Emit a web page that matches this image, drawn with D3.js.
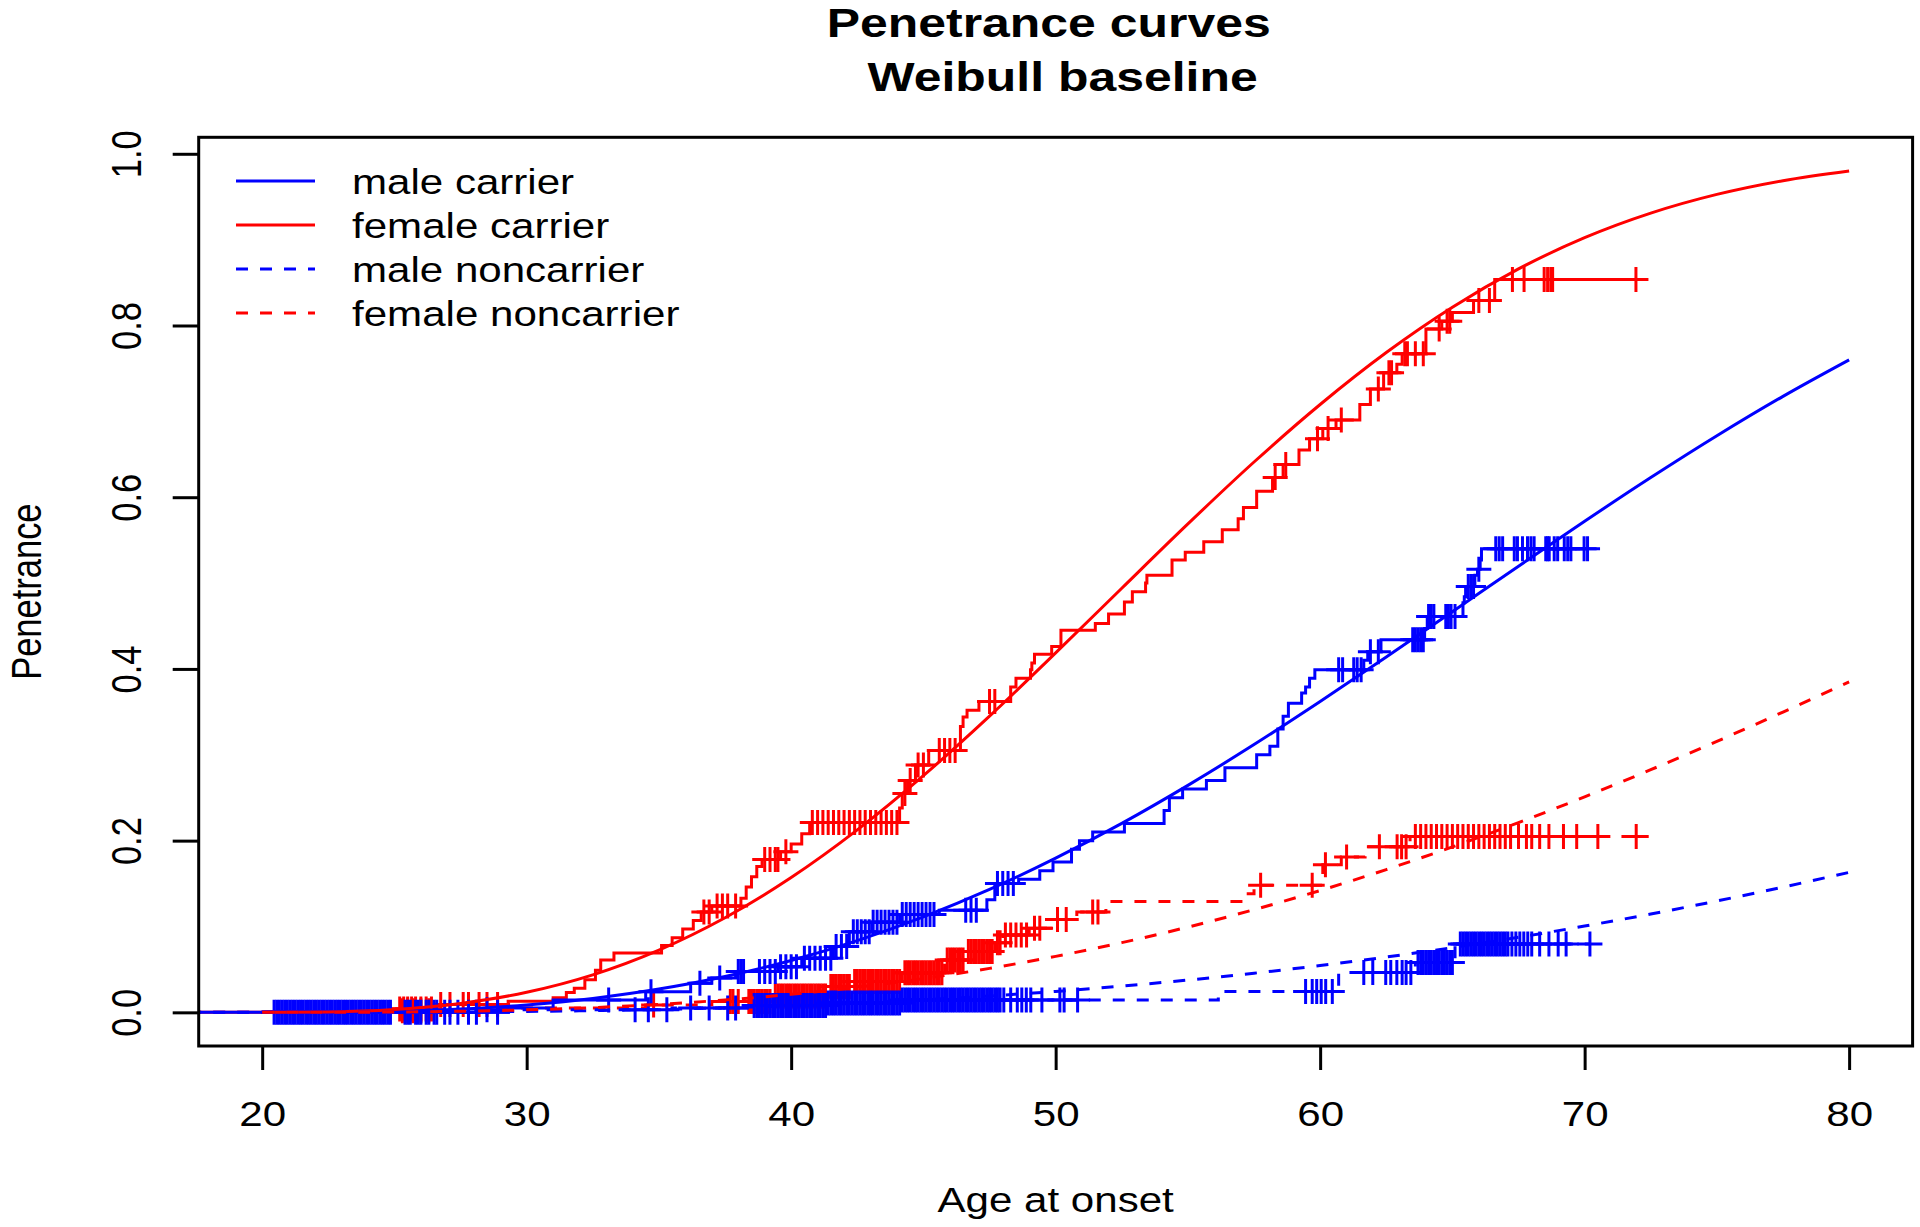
<!DOCTYPE html>
<html><head><meta charset="utf-8">
<script src="https://cdn.jsdelivr.net/npm/d3@7"></script>
<style>
html,body{margin:0;padding:0;background:#fff;}
text{font-family:"Liberation Sans", Arial, Helvetica, sans-serif;}
</style>
</head><body>
<svg id="chart" width="1920" height="1227"></svg>
<script>
// ---------------- DATA ----------------
const xTicks = [20, 30, 40, 50, 60, 70, 80];
const yTicks = [0, 0.2, 0.4, 0.6, 0.8, 1.0];
const legendLabels = ["male carrier", "female carrier", "male noncarrier", "female noncarrier"];

// fitted (Weibull) penetrance curves
const curveAges = [20, 22.5, 25, 27.5, 30, 32.5, 35, 37.5, 40, 42.5, 45, 47.5, 50, 52.5, 55, 57.5, 60, 62.5, 65, 67.5, 70, 72.5, 75, 77.5, 80];
const maleCarrierCurve = [0, 0.0002, 0.0012, 0.0038, 0.0086, 0.0162, 0.0271, 0.0417, 0.0604, 0.0835, 0.1111, 0.1431, 0.1796, 0.2201, 0.2644, 0.3119, 0.3620, 0.4138, 0.4666, 0.5197, 0.5720, 0.6229, 0.6716, 0.7175, 0.7600];
const femaleCarrierCurve = [0, 0.0005, 0.0033, 0.0104, 0.0234, 0.0437, 0.0725, 0.1102, 0.1570, 0.2125, 0.2757, 0.3450, 0.4186, 0.4940, 0.5689, 0.6410, 0.7080, 0.7685, 0.8213, 0.8659, 0.9023, 0.9309, 0.9527, 0.9687, 0.9800];
const maleNoncarrierCurve = [0, 0.0000, 0.0001, 0.0005, 0.0011, 0.0020, 0.0034, 0.0053, 0.0077, 0.0108, 0.0146, 0.0191, 0.0244, 0.0305, 0.0376, 0.0456, 0.0545, 0.0644, 0.0754, 0.0874, 0.1005, 0.1145, 0.1297, 0.1459, 0.1630];
const femaleNoncarrierCurve = [0, 0.0001, 0.0004, 0.0013, 0.0029, 0.0055, 0.0093, 0.0144, 0.0210, 0.0293, 0.0393, 0.0512, 0.0652, 0.0812, 0.0993, 0.1196, 0.1419, 0.1663, 0.1927, 0.2210, 0.2510, 0.2826, 0.3156, 0.3498, 0.3849];

// Kaplan-Meier (1 - S) step curves: event ages and cumulative values, plus censoring ages
const fcTimes = [24.9, 26.6, 29.3, 31.0, 31.5, 31.8, 32.2, 32.6, 32.8, 33.3, 35.1, 35.5, 35.9, 36.3, 36.6, 37.0, 38.1, 38.3, 38.5, 38.7, 38.9, 39.6, 40.0, 40.4, 40.7, 44.1, 44.2, 44.4, 44.7, 45.2, 46.4, 46.5, 46.65, 47.1, 48.3, 48.5, 49.05, 49.1, 49.2, 49.85, 50.2, 51.5, 52.0, 52.6, 52.9, 53.4, 53.45, 54.4, 54.9, 55.6, 56.3, 56.9, 57.1, 57.6, 58.2, 58.6, 59.2, 59.6, 60.1, 60.6, 61.5, 61.9, 62.4, 62.9, 63.1, 64.0, 64.6, 65.0, 65.8, 66.6];
const fcValues = [0.004, 0.009, 0.013, 0.017, 0.023, 0.028, 0.038, 0.049, 0.061, 0.069, 0.078, 0.087, 0.097, 0.107, 0.117, 0.124, 0.133, 0.146, 0.158, 0.170, 0.178, 0.187, 0.196, 0.208, 0.221, 0.238, 0.255, 0.270, 0.288, 0.305, 0.333, 0.344, 0.352, 0.362, 0.379, 0.389, 0.399, 0.407, 0.417, 0.426, 0.445, 0.453, 0.464, 0.478, 0.490, 0.500, 0.509, 0.527, 0.536, 0.548, 0.562, 0.575, 0.588, 0.607, 0.623, 0.638, 0.655, 0.668, 0.680, 0.690, 0.708, 0.726, 0.745, 0.755, 0.767, 0.796, 0.805, 0.815, 0.829, 0.8535];
const fcCensored = [25.2, 25.35, 25.5, 25.65, 25.8, 26.0, 26.2, 26.4, 26.75, 27.1, 27.6, 27.8, 28.2, 28.5, 28.9,
  36.7, 36.9, 37.2, 37.4, 37.6, 37.9, 39.0, 39.2, 39.4, 39.5, 39.8,
  40.8, 41.0, 41.2, 41.4, 41.6, 41.8, 42.0, 42.2, 42.4, 42.6, 42.8, 43.0, 43.2, 43.4, 43.6, 43.8, 44.0,
  44.3, 44.5, 44.8, 45.0, 45.6, 45.8, 46.0, 46.2, 47.5, 47.7,
  58.3, 58.7, 59.9, 60.3, 60.8, 62.2, 62.6, 62.7, 63.2, 63.3, 63.6, 63.9, 64.5, 64.8, 64.9, 66.0, 66.4,
  67.27, 67.71, 68.47, 68.6, 68.72, 68.79, 71.94];

const mcTimes = [29.3, 31.0, 34.5, 36.2, 37.0, 37.9, 39.5, 40.4, 41.6, 42.2, 43.05, 44.1, 45.6, 47.4, 47.7, 48.6, 49.4, 49.9, 50.6, 50.9, 51.4, 52.6, 54.1, 54.3, 54.8, 55.7, 56.4, 57.6, 58.1, 58.4, 58.6, 58.8, 59.3, 59.45, 59.6, 59.8, 61.65, 61.8, 62.3, 63.95, 64.05, 65.4, 65.45, 65.5, 65.85, 65.95, 66.05, 66.1];
const mcValues = [0.005, 0.0145, 0.024, 0.034, 0.04, 0.0475, 0.053, 0.063, 0.0766, 0.094, 0.105, 0.114, 0.119, 0.131, 0.15, 0.155, 0.165, 0.175, 0.19, 0.2, 0.21, 0.22, 0.235, 0.25, 0.26, 0.27, 0.285, 0.3, 0.31, 0.33, 0.345, 0.36, 0.372, 0.379, 0.389, 0.399, 0.41, 0.42, 0.434, 0.447, 0.461, 0.477, 0.484, 0.496, 0.509, 0.516, 0.527, 0.54];
const mcCensored = [25.4, 25.6, 25.8, 26.0, 26.3, 26.6, 26.9, 27.4, 28.1, 28.9,
  33.1, 34.7, 36.55, 37.3, 38.0, 38.1, 38.2, 38.8, 39.0, 39.2, 39.4, 39.6, 39.8, 40.0, 40.2, 40.5, 40.7, 40.9, 41.1, 41.3, 41.5, 41.7, 41.9, 42.1,
  42.35, 42.5, 42.65, 42.8, 42.95, 43.1, 43.25, 43.4, 43.55, 43.7, 43.85, 44.0, 44.2, 44.35, 44.5, 44.65, 44.8, 44.95, 45.1, 45.25, 45.4,
  46.6, 46.8, 47.0, 47.8, 48.0, 48.2, 48.4,
  60.7, 60.85, 61.27, 61.4, 61.55, 61.9, 62.2, 63.5, 63.6, 63.7, 63.8, 63.9, 64.1, 64.2, 64.3, 64.75, 64.85, 64.95, 65.1, 65.6, 65.7, 65.8, 66.0,
  66.64, 66.77, 66.90, 67.34, 67.46, 67.65, 67.84, 67.97, 68.09, 68.53, 68.60, 68.66, 68.85, 68.98, 69.23, 69.36, 69.48, 69.98, 70.11];

const mnTimes = [28.0, 35.5, 38.5, 41.4, 44.2, 56.15, 60.7, 63.6, 65.1];
const mnValues = [0.003, 0.005, 0.008, 0.011, 0.0145, 0.0242, 0.0463, 0.058, 0.0797];
const mnCensored = [20.45, 20.55, 20.65, 20.75, 20.85, 20.95, 21.05, 21.15, 21.25, 21.35, 21.45, 21.55, 21.65, 21.75, 21.85, 21.95, 22.05, 22.15, 22.25, 22.35, 22.45,
  22.55, 22.65, 22.75, 22.85, 22.95, 23.05, 23.15, 23.25, 23.35, 23.45, 23.55, 23.65, 23.75, 23.85, 23.95, 24.05, 24.15, 24.25, 24.35, 24.45, 24.55,
  24.65, 24.75, 24.85,
  25.5, 25.9, 26.2, 26.5, 27.1, 27.8, 28.5, 34.1, 34.6, 35.3, 36.2, 36.9, 37.6, 37.9,
  38.6, 38.7, 38.8, 38.9, 39.0, 39.1, 39.2, 39.3, 39.4, 39.5, 39.6, 39.7, 39.8, 39.9, 40.0, 40.1, 40.2, 40.3, 40.4, 40.5, 40.6, 40.7, 40.8, 40.9,
  41.0, 41.1, 41.2, 41.3, 41.4, 41.5, 41.6, 41.7, 41.8, 41.9, 42.0, 42.1, 42.2, 42.3, 42.4, 42.5, 42.6, 42.7, 42.8, 42.9, 43.0, 43.1, 43.2, 43.3,
  43.4, 43.5, 43.6, 43.7, 43.8, 43.9, 44.0, 44.1, 44.2, 44.3, 44.4, 44.5, 44.6, 44.7, 44.8, 44.9, 45.0, 45.1, 45.2, 45.3, 45.4, 45.5, 45.6, 45.7,
  45.8, 45.9, 46.0, 46.1, 46.2, 46.3, 46.4, 46.5, 46.6, 46.7, 46.8, 46.9, 47.0, 47.1, 47.2, 47.3, 47.4, 47.5, 47.6, 47.7, 47.8, 47.9,
  48.04, 48.30, 48.55, 48.72, 48.89, 49.06, 49.48, 50.16, 50.32, 50.83,
  59.45, 59.70, 59.87, 60.04, 60.21, 60.46, 61.65, 61.99, 62.48, 62.67, 62.9, 63.1, 63.25, 63.43,
  63.7, 63.8, 63.9, 64.0, 64.1, 64.2, 64.3, 64.4, 64.5, 64.6, 64.7, 64.8, 64.9, 65.0,
  65.3, 65.4, 65.5, 65.6, 65.7, 65.8, 65.9, 66.0, 66.1, 66.2, 66.3, 66.4, 66.5, 66.6, 66.7, 66.8, 66.9, 67.0, 67.1, 67.25, 67.4, 67.55, 67.7,
  67.85, 68.0, 68.3, 68.65, 69.0, 69.3, 70.2];

const fnTimes = [25.0, 29.0, 34.5, 37.0, 39.3, 41.4, 42.3, 44.2, 45.8, 46.6, 47.7, 48.0, 49.0, 50.0, 50.8, 51.9, 57.2, 57.5, 60.1, 60.8, 61.7, 63.4];
const fnValues = [0.002, 0.005, 0.0087, 0.0126, 0.019, 0.030, 0.036, 0.046, 0.061, 0.071, 0.081, 0.09, 0.098, 0.108, 0.117, 0.129, 0.138, 0.148, 0.172, 0.181, 0.193, 0.2047];
const fnCensored = [25.3, 25.5, 25.7, 26.0, 26.3, 34.8, 37.7, 37.8, 38.0,
  38.4, 38.5, 38.6, 38.7, 38.8, 38.9, 39.0, 39.1, 39.2,
  39.4, 39.5, 39.6, 39.7, 39.8, 39.9, 40.0, 40.1, 40.2, 40.3, 40.4, 40.5, 40.6, 40.7, 40.8, 40.9, 41.0, 41.1, 41.2, 41.3,
  41.5, 41.6, 41.7, 41.8, 41.9, 42.0, 42.1, 42.2,
  42.4, 42.5, 42.6, 42.7, 42.8, 42.9, 43.0, 43.1, 43.2, 43.3, 43.4, 43.5, 43.6, 43.7, 43.8, 43.9, 44.0, 44.1,
  44.3, 44.4, 44.5, 44.6, 44.7, 44.8, 44.9, 45.0, 45.1, 45.2, 45.3, 45.4, 45.5, 45.6, 45.7,
  45.9, 46.0, 46.1, 46.2, 46.3, 46.4, 46.5, 46.7, 46.8, 46.9, 47.0, 47.1, 47.2, 47.3, 47.4, 47.5, 47.6,
  47.8, 47.9, 48.1, 48.3, 48.5, 48.7, 48.9, 49.2, 49.4, 50.07, 50.4, 51.4, 51.6, 57.75, 59.7, 60.2, 61.0, 62.24, 62.91, 63.08, 63.25,
  63.6, 63.8, 64.0, 64.2, 64.4, 64.6, 64.8, 65.0, 65.2, 65.4, 65.6, 65.8, 66.0, 66.2, 66.4, 66.6, 66.8, 67.0, 67.2,
  67.5, 67.8, 68.0, 68.3, 68.65, 69.2, 69.7, 70.5, 71.95];

// ---------------- LAYOUT ----------------
const W = 1920, H = 1227;
const P = {left: 198.7, right: 1912.6, top: 137.3, bottom: 1046};
const BLUE = "#0000ff", RED = "#ff0000";
const FS = 34.5, SX = 1.22, TFS = 41, TSX = 1.218, LW = 3, DASH = "12,12";

const x = d3.scaleLinear().domain([17.6, 82.4]).range([P.left, P.right]);
const y = d3.scaleLinear().domain([-0.0392, 1.0192]).range([P.bottom, P.top]);

const svg = d3.select("#chart");
svg.append("rect").attr("width", W).attr("height", H).attr("fill", "#fff");
svg.append("defs").append("clipPath").attr("id", "plotclip").append("rect")
  .attr("x", P.left).attr("y", P.top).attr("width", P.right - P.left).attr("height", P.bottom - P.top);
const g = svg.append("g").attr("clip-path", "url(#plotclip)");

function kmValue(times, vals, t) {
  let v = 0;
  for (let i = 0; i < times.length; i++) if (times[i] <= t + 1e-9) v = vals[i];
  return v;
}
const stepLine = d3.line().x(d => x(d[0])).y(d => y(d[1])).curve(d3.curveStepAfter);
const smoothLine = d3.line().x(d => x(d[0])).y(d => y(d[1])).curve(d3.curveMonotoneX);

function drawKM(times, vals, cens, color, dashed) {
  const last = d3.max(cens.concat(times));
  const pts = [[0, 0]].concat(times.map((t, i) => [t, vals[i]])).concat([[last, vals[vals.length - 1]]]);
  g.append("path").attr("d", stepLine(pts)).attr("fill", "none")
    .attr("stroke", color).attr("stroke-width", LW)
    .attr("stroke-dasharray", dashed ? DASH : null);
  g.append("g").selectAll("path").data(cens).join("path")
    .attr("transform", t => `translate(${x(t)},${y(kmValue(times, vals, t))})`)
    .attr("d", "M-12.5,0H12.5M0,-12.5V12.5")
    .attr("fill", "none").attr("stroke", color).attr("stroke-width", LW);
}
drawKM(fcTimes, fcValues, fcCensored, RED, false);
drawKM(fnTimes, fnValues, fnCensored, RED, true);
drawKM(mcTimes, mcValues, mcCensored, BLUE, false);
drawKM(mnTimes, mnValues, mnCensored, BLUE, true);

function drawCurve(vals, color, dashed) {
  g.append("path").attr("d", smoothLine(curveAges.map((a, i) => [a, vals[i]])))
    .attr("fill", "none").attr("stroke", color).attr("stroke-width", LW)
    .attr("stroke-dasharray", dashed ? DASH : null);
}
drawCurve(maleCarrierCurve, BLUE, false);
drawCurve(femaleCarrierCurve, RED, false);
drawCurve(maleNoncarrierCurve, BLUE, true);
drawCurve(femaleNoncarrierCurve, RED, true);

// frame
svg.append("rect").attr("x", P.left).attr("y", P.top)
  .attr("width", P.right - P.left).attr("height", P.bottom - P.top)
  .attr("fill", "none").attr("stroke", "#000").attr("stroke-width", LW);

// axes
const xAxis = svg.append("g").attr("transform", `translate(0,${P.bottom})`)
  .call(d3.axisBottom(x).tickValues(xTicks).tickSize(24).tickFormat(d3.format("d")));
xAxis.select(".domain").remove();
xAxis.selectAll(".tick line").attr("stroke", "#000").attr("stroke-width", LW);
xAxis.selectAll(".tick text").attr("y", 0).attr("dy", null)
  .attr("transform", `translate(0,80) scale(${SX},1)`)
  .attr("font-size", FS).attr("fill", "#000").attr("font-family", "Liberation Sans, Arial, sans-serif");

const yAxis = svg.append("g").attr("transform", `translate(${P.left},0)`)
  .call(d3.axisLeft(y).tickValues(yTicks).tickSize(26).tickFormat(d3.format(".1f")));
yAxis.select(".domain").remove();
yAxis.selectAll(".tick line").attr("stroke", "#000").attr("stroke-width", LW);
yAxis.selectAll(".tick text").attr("x", 0).attr("dy", null).attr("text-anchor", "middle")
  .attr("transform", `translate(-58,0) scale(${SX},1) rotate(-90)`)
  .attr("font-size", FS).attr("fill", "#000").attr("font-family", "Liberation Sans, Arial, sans-serif");

// texts
function sText(px, py, str, opts = {}) {
  return svg.append("text")
    .attr("transform", `translate(${px},${py}) scale(${opts.sx || SX},1)` + (opts.rotate ? " rotate(-90)" : ""))
    .attr("text-anchor", opts.anchor || "middle")
    .attr("font-size", opts.size || FS)
    .attr("font-weight", opts.bold ? "bold" : "normal")
    .attr("fill", "#000")
    .style("white-space", "pre")
    .text(str);
}
const cx = (P.left + P.right) / 2;
sText(cx, 37, "Penetrance curves ", {bold: true, size: TFS, sx: TSX});
sText(cx, 91, " Weibull baseline", {bold: true, size: TFS, sx: TSX});
sText(cx, 1212, "Age at onset");
sText(41, (P.top + P.bottom) / 2, "Penetrance", {rotate: true});

// legend
const legendColors = [BLUE, RED, BLUE, RED];
const legendDashed = [false, false, true, true];
const leg = svg.append("g");
legendLabels.forEach((lab, i) => {
  const ly = 181 + i * 44;
  leg.append("line").attr("x1", 236).attr("x2", 315).attr("y1", ly).attr("y2", ly)
    .attr("stroke", legendColors[i]).attr("stroke-width", LW)
    .attr("stroke-dasharray", legendDashed[i] ? DASH : null);
  leg.append("text").attr("transform", `translate(352,${ly + 12.5}) scale(${SX},1)`)
    .attr("font-size", FS).attr("fill", "#000").text(lab);
});
</script>
</body></html>
